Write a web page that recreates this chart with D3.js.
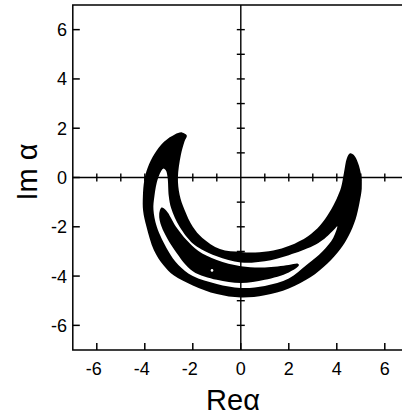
<!DOCTYPE html>
<html>
<head>
<meta charset="utf-8">
<script src="https://cdn.jsdelivr.net/npm/d3@7"></script>
<style>
  html, body { margin: 0; padding: 0; background: #fff; }
  svg { display: block; }
  text { font-family: "Liberation Sans", "DejaVu Sans", sans-serif; fill: #000; }
</style>
</head>
<body>
<svg id="chart" width="402" height="417"></svg>
<script>
// outer black crescent: outer edge from left tip round to right tip, then concave edge back
const outerShape = [
  [-2.45, 1.83], [-2.75, 1.75], [-3.2, 1.45], [-3.6, 0.95], [-3.88, 0.4],
  [-4.02, -0.1], [-4.08, -0.76], [-4.07, -1.35], [-3.93, -2.0], [-3.62, -2.95],
  [-3.23, -3.55], [-2.8, -3.97], [-2.0, -4.38], [-1.0, -4.73], [0.0, -4.87],
  [1.0, -4.78], [2.0, -4.5], [2.9, -4.05], [3.6, -3.5], [4.15, -2.9],
  [4.5, -2.35], [4.78, -1.7], [4.95, -1.0], [5.04, -0.45], [5.02, 0.05],
  [4.88, 0.6], [4.7, 0.92], [4.55, 0.98], [4.42, 0.78], [4.3, 0.2],
  [4.18, -0.4], [4.0, -0.85], [3.7, -1.4], [3.3, -1.95], [2.8, -2.38],
  [2.05, -2.76], [1.35, -2.96], [0.6, -3.04], [0.0, -3.02], [-0.87, -2.9],
  [-1.6, -2.45], [-2.0, -2.0], [-2.35, -1.3], [-2.55, -0.7], [-2.62, 0.0],
  [-2.5, 0.9], [-2.35, 1.45], [-2.25, 1.7]
];

// white gap cut into the outer crescent
const gapShape = [
  [-3.23, 0.36], [-3.44, 0.0], [-3.6, -0.76], [-3.64, -1.3], [-3.5, -2.0],
  [-3.03, -2.97], [-2.6, -3.55], [-2.0, -4.0], [-1.0, -4.32], [0.0, -4.48],
  [1.0, -4.4], [2.0, -4.1], [2.75, -3.54], [3.4, -3.0], [3.85, -2.45],
  [4.02, -1.98], [3.9, -2.1], [3.44, -2.52], [3.0, -2.78], [2.0, -3.15],
  [1.0, -3.4], [0.0, -3.45], [-1.0, -3.2], [-1.63, -2.92], [-2.0, -2.68],
  [-2.55, -2.0], [-2.9, -1.25], [-3.0, -0.76], [-3.05, 0.0], [-3.12, 0.28]
];

// inner black crescent inside the gap
const innerShape = [
  [-3.3, -1.22], [-3.1, -1.35], [-2.7, -2.0], [-2.25, -2.55], [-1.78, -2.97],
  [-1.0, -3.35], [0.0, -3.6], [1.0, -3.65], [2.0, -3.55], [2.38, -3.5],
  [2.42, -3.56], [2.0, -3.85], [1.0, -4.15], [0.0, -4.28], [-1.0, -4.15],
  [-2.0, -3.8], [-2.74, -2.97], [-3.3, -2.0], [-3.4, -1.5]
];

const holeDots = [[-1.2, -3.77]];

const frameTicks = [-6, -4, -2, 0, 2, 4, 6];
const axisTicks = [-6, -5, -4, -3, -2, -1, 1, 2, 3, 4, 5, 6];
const xDomain = [-7, 7];
const yDomain = [-7, 7];

const svg = d3.select("#chart");

const x = d3.scaleLinear().domain(xDomain).range([72.8, 408.8]);
const y = d3.scaleLinear().domain(yDomain).range([350, 5]);

const line = d3.line()
    .x(d => x(d[0]))
    .y(d => y(d[1]))
    .curve(d3.curveCatmullRomClosed.alpha(0.5));

// Shapes
svg.append("path").attr("d", line(outerShape)).attr("fill", "#000");
svg.append("path").attr("d", line(gapShape)).attr("fill", "#fff");
svg.append("path").attr("d", line(innerShape)).attr("fill", "#000");
svg.selectAll(".dot")
    .data(holeDots)
    .join("circle")
    .attr("class", "dot")
    .attr("cx", d => x(d[0]))
    .attr("cy", d => y(d[1]))
    .attr("r", 1.3)
    .attr("fill", "#fff");

// Frame
const gFrame = svg.append("g").attr("stroke", "#000").attr("stroke-width", 1.5).attr("fill", "none");
gFrame.append("path")
    .attr("d", `M${x(7)},${y(7)} H${x(-7)} V${y(-7)} H${x(7)}`);

gFrame.selectAll(".ltick")
    .data(frameTicks)
    .join("line")
    .attr("class", "ltick")
    .attr("x1", x(-7)).attr("x2", x(-7) + 7)
    .attr("y1", d => y(d)).attr("y2", d => y(d));
gFrame.selectAll(".btick")
    .data(frameTicks)
    .join("line")
    .attr("class", "btick")
    .attr("y1", y(-7)).attr("y2", y(-7) - 7)
    .attr("x1", d => x(d)).attr("x2", d => x(d));

// Center axes with crossing ticks
const gAxes = svg.append("g").attr("stroke", "#000").attr("stroke-width", 1.4);
gAxes.append("line").attr("x1", x(-7)).attr("x2", x(7)).attr("y1", y(0)).attr("y2", y(0));
gAxes.append("line").attr("x1", x(0)).attr("x2", x(0)).attr("y1", y(7)).attr("y2", y(-7));
gAxes.selectAll(".hx")
    .data(axisTicks)
    .join("line")
    .attr("class", "hx")
    .attr("x1", d => x(d)).attr("x2", d => x(d))
    .attr("y1", y(0) - 4).attr("y2", y(0) + 4);
gAxes.selectAll(".vy")
    .data(axisTicks)
    .join("line")
    .attr("class", "vy")
    .attr("y1", d => y(d)).attr("y2", d => y(d))
    .attr("x1", x(0) - 4).attr("x2", x(0) + 4);

// Tick labels
svg.selectAll(".ylab")
    .data(frameTicks)
    .join("text")
    .attr("class", "ylab")
    .attr("x", 67)
    .attr("y", d => y(d))
    .attr("dy", "0.36em")
    .attr("text-anchor", "end")
    .attr("font-size", 18)
    .text(d => d < 0 ? "-" + Math.abs(d) : d);

svg.selectAll(".xlab")
    .data(frameTicks)
    .join("text")
    .attr("class", "xlab")
    .attr("x", d => x(d) - (d < 0 ? 3 : 0))
    .attr("y", 375)
    .attr("text-anchor", "middle")
    .attr("font-size", 18)
    .text(d => d < 0 ? "-" + Math.abs(d) : d);

// Axis titles
svg.append("text")
    .attr("x", 233)
    .attr("y", 410)
    .attr("text-anchor", "middle")
    .attr("font-size", 29)
    .text("Reα");

svg.append("text")
    .attr("transform", "translate(37,172) rotate(-90)")
    .attr("text-anchor", "middle")
    .attr("font-size", 29)
    .text("Im α");
</script>
</body>
</html>
